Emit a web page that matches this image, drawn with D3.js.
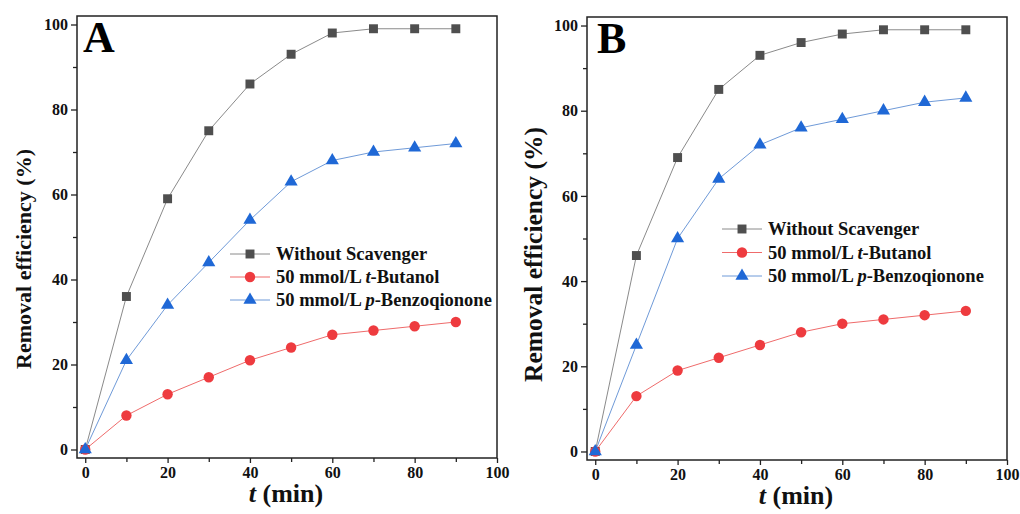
<!DOCTYPE html>
<html>
<head>
<meta charset="utf-8">
<script src="https://cdn.jsdelivr.net/npm/d3@7"></script>
<style>
  body { margin: 0; background: #fff; }
  svg text { font-family: "Liberation Serif", "Times New Roman", serif !important; font-weight: bold; }
</style>
</head>
<body>
<main></main>
<script>
const times = [0, 10, 20, 30, 40, 50, 60, 70, 80, 90];
const seriesNames = ['Without Scavenger', '50 mmol/L t-Butanol', '50 mmol/L p-Benzoqionone'];

const withoutA = [0, 36, 59, 75, 86, 93, 98, 99, 99, 99];
const butanolA = [0, 8, 13, 17, 21, 24, 27, 28, 29, 30];
const benzoA = [0, 21, 34, 44, 54, 63, 68, 70, 71, 72];

const withoutB = [0, 46, 69, 85, 93, 96, 98, 99, 99, 99];
const butanolB = [0, 13, 19, 22, 25, 28, 30, 31, 32, 33];
const benzoB = [0, 25, 50, 64, 72, 76, 78, 80, 82, 83];

const xTicks = [0, 20, 40, 60, 80, 100];
const yTicks = [0, 20, 40, 60, 80, 100];

const styles = [
    { line: '#8a8a8a', fill: '#4f4f4f', shape: 'square' },
    { line: '#ef6b6b', fill: '#ee3b3f', shape: 'circle' },
    { line: '#6f9ad8', fill: '#1f68d6', shape: 'triangle' }
];

const svg = d3.select('main')
    .append('svg')
    .attr('width', 1020)
    .attr('height', 514);

const symbolFor = (shape) => {
    if (shape === 'square') return d3.symbol().type(d3.symbolSquare).size(80);
    if (shape === 'circle') return d3.symbol().type(d3.symbolCircle).size(85);
    return d3.symbol().type(d3.symbolTriangle).size(75);
};

const drawPanel = (opts) => {
    const g = svg.append('g').attr('transform', `translate(${opts.left}, ${opts.top})`);
    const w = opts.width, h = opts.height;

    const xScale = d3.scaleLinear().domain([-2, 100]).range([0, w]);
    const yScale = d3.scaleLinear().domain([-2, 102]).range([h, 0]);

    // frame
    g.append('rect')
        .attr('width', w).attr('height', h)
        .attr('fill', 'none').attr('stroke', '#222').attr('stroke-width', 1.5);

    // x axis major + minor
    g.append('g')
        .attr('transform', `translate(0, ${h})`)
        .call(d3.axisBottom(xScale).tickValues(d3.range(10, 100, 20)).tickSize(4).tickFormat(''))
        .call((a) => a.select('.domain').remove());
    const xa = g.append('g')
        .attr('transform', `translate(0, ${h})`)
        .call(d3.axisBottom(xScale).tickValues(xTicks).tickSize(5).tickPadding(4));
    xa.select('.domain').remove();
    xa.selectAll('text').attr('font-size', 16).attr('fill', '#111');

    // y axis major + minor
    g.append('g')
        .call(d3.axisLeft(yScale).tickValues(d3.range(10, 100, 20)).tickSize(4).tickFormat(''))
        .call((a) => a.select('.domain').remove());
    const ya = g.append('g')
        .call(d3.axisLeft(yScale).tickValues(yTicks).tickSize(6).tickPadding(3));
    ya.select('.domain').remove();
    ya.selectAll('text').attr('font-size', 16).attr('fill', '#111');
    g.selectAll('.tick line').attr('stroke', '#222').attr('stroke-width', 1.3);

    // panel label
    g.append('text')
        .attr('x', opts.labelX).attr('y', 36)
        .attr('font-size', 44)
        .text(opts.label);

    const line = d3.line()
        .x((d, i) => xScale(times[i]))
        .y((d) => yScale(d));

    opts.series.forEach((data, k) => {
        const st = styles[k];
        g.append('path')
            .datum(data)
            .attr('d', line)
            .attr('fill', 'none')
            .attr('stroke', st.line)
            .attr('stroke-width', 1);
    });
    opts.series.forEach((data, k) => {
        const st = styles[k];
        g.selectAll(null)
            .data(data)
            .enter()
            .append('path')
            .attr('d', symbolFor(st.shape))
            .attr('transform', (d, i) => `translate(${xScale(times[i])}, ${yScale(d)})`)
            .attr('fill', st.fill);
    });

    // legend
    const lg = g.append('g').attr('transform', `translate(${opts.legendX}, ${opts.legendY})`);
    seriesNames.forEach((name, k) => {
        const st = styles[k];
        const row = lg.append('g').attr('transform', `translate(0, ${k * opts.legendGap})`);
        row.append('line')
            .attr('x1', 0).attr('x2', 40)
            .attr('stroke', st.line).attr('stroke-width', 1);
        row.append('path')
            .attr('d', symbolFor(st.shape))
            .attr('transform', 'translate(20, 0)')
            .attr('fill', st.fill);
        const t = row.append('text')
            .attr('x', 46).attr('y', 6)
            .attr('font-size', 18.5)
            .attr('fill', '#111');
        if (k === 0) {
            t.text(name);
        } else {
            const ital = k === 1 ? 't' : 'p';
            const parts = name.split(' ' + ital + '-');
            t.append('tspan').text(parts[0] + ' ');
            t.append('tspan').attr('font-style', 'italic').text(ital);
            t.append('tspan').text('-' + parts[1]);
        }
    });

    // axis titles
    const xt = g.append('text')
        .attr('x', 209).attr('y', h + 44)
        .attr('text-anchor', 'middle')
        .attr('font-size', 26)
        .attr('fill', '#111');
    xt.append('tspan').attr('font-style', 'italic').text('t');
    xt.append('tspan').text(' (min)');

    g.append('text')
        .attr('transform', `translate(${opts.yTitleX}, ${opts.yTitleY}) rotate(-90)`)
        .attr('text-anchor', 'middle')
        .attr('font-size', opts.yTitleSize)
        .attr('fill', '#111')
        .text('Removal efficiency (%)');
};

drawPanel({
    left: 77, top: 16, width: 420, height: 442, label: 'A', labelX: 6,
    series: [withoutA, butanolA, benzoA],
    legendX: 153, legendY: 238, legendGap: 23,
    yTitleX: -46, yTitleY: 243, yTitleSize: 22
});

drawPanel({
    left: 587, top: 17, width: 420, height: 443, label: 'B', labelX: 10,
    series: [withoutB, butanolB, benzoB],
    legendX: 135, legendY: 212, legendGap: 23.5,
    yTitleX: -45, yTitleY: 237.5, yTitleSize: 25.5
});
</script>
</body>
</html>
